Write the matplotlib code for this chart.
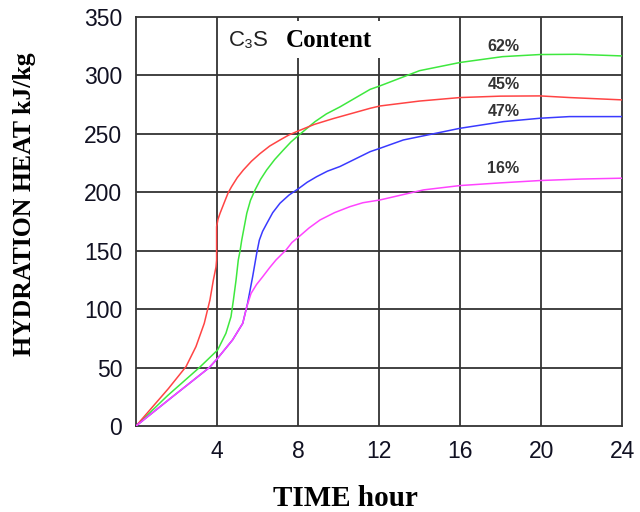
import numpy as np
import matplotlib
matplotlib.use('Agg')
import matplotlib.pyplot as plt
from matplotlib.patches import Rectangle

# C3S content curves: time (hour) vs hydration heat (kJ/kg)
t_45 = [0, 0.8, 1.6, 2.47, 2.96, 3.37, 3.65, 3.82, 3.95, 3.98, 3.98, 4.05, 4.15, 4.4, 4.55, 4.72,
        5.0, 5.3, 5.7, 6.12, 6.6, 7.11, 7.55, 8.05, 8.8, 9.74, 11.56, 12.05, 14.0, 16.0, 18.0,
        19.95, 21.4, 22.7, 24.0]
v_45 = [0, 16, 32, 50.8, 67.9, 87.8, 107.8, 124.9, 136, 142, 170.5, 177, 182, 193, 199.5, 204.8,
        212.5, 219, 226.5, 233, 239.5, 244.7, 249, 252.7, 258, 263, 271.8, 273.8, 278, 281, 282.2,
        282.4, 281, 280, 279]

t_62 = [0, 1.56, 3.13, 4.03, 4.44, 4.69, 4.81, 4.94, 5.05, 5.14, 5.22, 5.47, 5.65, 5.88, 6.15,
        6.45, 6.85, 7.27, 7.65, 8.05, 8.84, 9.4, 10.07, 11.56, 12.05, 14.0, 16.0, 18.1, 19.95,
        21.76, 24.0]
v_62 = [0, 26, 50, 65, 79.3, 93.5, 107.8, 124.9, 142, 150, 159, 182, 193, 202, 211,
        219, 228, 236, 243, 249, 260.4, 267, 273, 288, 291, 304, 311, 316, 317.8,
        318, 316.6]

t_47 = [0, 1.8, 3.62, 4.03, 4.77, 5.27, 5.51, 5.76, 5.96, 6.09, 6.25, 6.45, 6.75, 7.11, 7.55,
        8.05, 8.45, 8.92, 9.45, 10.07, 11.56, 12.05, 13.2, 16.0, 18.14, 19.95, 21.4, 24.0]
v_47 = [0, 25, 50, 57.9, 73.7, 87.8, 105, 127.8, 147.8, 159, 166.5, 173, 182.5, 190.6, 197.5,
        203.4, 208.5, 213.3, 218, 222, 234.7, 237.6, 244.7, 254.7, 260.4, 263.3, 264.7, 264.7]

t_16 = [0, 1.8, 3.62, 4.03, 4.77, 5.27, 5.47, 5.68, 5.95, 6.26, 6.6, 6.91, 7.41, 7.7, 8.05,
        8.55, 9.09, 9.8, 10.57, 11.2, 12.05, 14.2, 16.0, 18.0, 19.95, 22.0, 24.0]
v_16 = [0, 25, 50, 57.9, 73.7, 87.8, 102, 113.4, 121, 127.8, 135.5, 142, 150.6, 157, 162,
        169.5, 176.3, 182.5, 187.7, 191, 193.4, 202, 205.7, 208, 210, 211.3, 212]

series = [
    ('62%', t_62, v_62, '#3ee83e', 324.6),
    ('45%', t_45, v_45, '#ff4444', 292.4),
    ('47%', t_47, v_47, '#3a3aff', 269),
    ('16%', t_16, v_16, '#ff44ff', 220.5),
]

x_ticks = [4, 8, 12, 16, 20, 24]
y_ticks = [0, 50, 100, 150, 200, 250, 300, 350]

plt.rcParams['font.family'] = ['Liberation Sans', 'DejaVu Sans']

fig = plt.figure(figsize=(6.4, 5.12), dpi=100)
ax = fig.add_axes([0.2125, 0.168, 0.7595, 0.799])

grid_col = '#333333'
for x in x_ticks[:-1]:
    ax.axvline(x, color=grid_col, lw=1.3, zorder=1)
for y in y_ticks[1:-1]:
    ax.axhline(y, color=grid_col, lw=1.3, zorder=1)

# white box behind the title text cuts the grid lines
ax.add_patch(Rectangle((4.1, 315), 8.1, 31.5, facecolor='white', edgecolor='none', zorder=2))

for name, t, v, col, ly in series:
    ax.plot(t, v, color=col, lw=1.1, zorder=3)
    ax.text(18.14, ly, name, fontsize=11.5, fontweight='bold', color='#333333',
            ha='center', va='center', zorder=4)

ax.text(4.6, 330, 'C\u2083S', fontsize=16, color='#222222', va='center', zorder=4)
ax.text(7.4, 330, 'Content', fontsize=18, fontweight='bold', family='Liberation Serif',
        va='center', zorder=4)

ax.set_xlim(0, 24)
ax.set_ylim(0, 350)
ax.set_xticks(x_ticks)
ax.set_yticks(y_ticks)
ax.tick_params(length=0, labelsize=16.5, labelcolor='#111122', pad=10)
for s in ax.spines.values():
    s.set_color(grid_col)
    s.set_linewidth(1.3)

ax.set_xlabel('TIME hour', fontsize=21, fontweight='bold', family='Liberation Serif')
ax.xaxis.set_label_coords(0.43, -0.145)
ax.set_ylabel('HYDRATION HEAT kJ/kg', fontsize=18.5, fontweight='bold', family='Liberation Serif')
ax.yaxis.set_label_coords(-0.205, 0.543)

fig.savefig('out.png', dpi=100)
